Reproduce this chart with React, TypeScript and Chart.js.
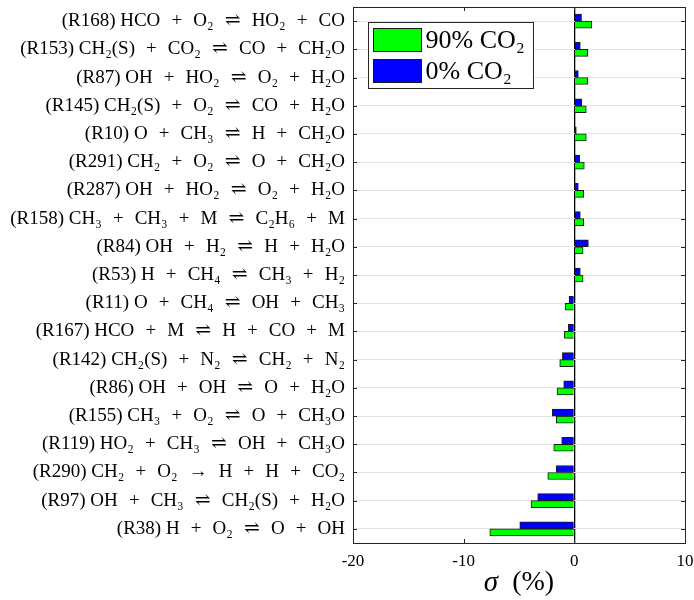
import React, { useEffect, useRef } from "react";
import { Chart, registerables } from "chart.js";

Chart.register(...registerables);

const reactions: string[] = [
  "(R168) HCO + O₂ ⇌ HO₂ + CO",
  "(R153) CH₂(S) + CO₂ ⇌ CO + CH₂O",
  "(R87) OH + HO₂ ⇌ O₂ + H₂O",
  "(R145) CH₂(S) + O₂ ⇌ CO + H₂O",
  "(R10) O + CH₃ ⇌ H + CH₂O",
  "(R291) CH₂ + O₂ ⇌ O + CH₂O",
  "(R287) OH + HO₂ ⇌ O₂ + H₂O",
  "(R158) CH₃ + CH₃ + M ⇌ C₂H₆ + M",
  "(R84) OH + H₂ ⇌ H + H₂O",
  "(R53) H + CH₄ ⇌ CH₃ + H₂",
  "(R11) O + CH₄ ⇌ OH + CH₃",
  "(R167) HCO + M ⇌ H + CO + M",
  "(R142) CH₂(S) + N₂ ⇌ CH₂ + N₂",
  "(R86) OH + OH ⇌ O + H₂O",
  "(R155) CH₃ + O₂ ⇌ O + CH₃O",
  "(R119) HO₂ + CH₃ ⇌ OH + CH₃O",
  "(R290) CH₂ + O₂ → H + H + CO₂",
  "(R97) OH + CH₃ ⇌ CH₂(S) + H₂O",
  "(R38) H + O₂ ⇌ O + OH",
];

const co2_0: number[] = [
  0.65, 0.54, 0.36, 0.67, 0.18, 0.48, 0.36, 0.54, 1.27, 0.54,
  -0.48, -0.54, -1.08, -0.96, -1.99, -1.14, -1.63, -3.31, -4.93,
];

const co2_90: number[] = [
  1.57, 1.21, 1.21, 1.08, 1.08, 0.9, 0.85, 0.85, 0.79, 0.79,
  -0.84, -0.9, -1.32, -1.56, -1.63, -1.86, -2.4, -3.91, -7.64,
];

const seriesLabels: string[] = ["0% CO₂", "90% CO₂"];
const xMin = -20;
const xMax = 10;
const xStep = 10;

const FONT = "'Liberation Serif', 'DejaVu Serif', serif";
const AXIS = "#262626";
const GAP = "  \u200A";

function spaced(label: string): string {
  const i = label.indexOf(" ");
  const id = label.slice(0, i);
  const rest = label
    .slice(i + 1)
    .split(" ")
    .join(GAP);
  return id + " " + rest;
}

const framePlugin = {
  id: "frame",
  afterDatasetsDraw(chart: any) {
    const { ctx, chartArea: ca, scales } = chart;
    ctx.save();
    ctx.strokeStyle = AXIS;
    ctx.lineWidth = 1;
    const y = scales.y;
    const x = scales.x;
    ctx.beginPath();
    for (let i = 0; i < y.ticks.length; i++) {
      const p = Math.round(y.getPixelForTick(i)) + 0.5;
      ctx.moveTo(ca.left, p);
      ctx.lineTo(ca.left + 4, p);
      ctx.moveTo(ca.right, p);
      ctx.lineTo(ca.right - 4, p);
    }
    for (let i = 0; i < x.ticks.length; i++) {
      const p = Math.round(x.getPixelForTick(i)) + 0.5;
      ctx.moveTo(p, ca.bottom);
      ctx.lineTo(p, ca.bottom - 4);
      ctx.moveTo(p, ca.top);
      ctx.lineTo(p, ca.top + 4);
    }
    ctx.stroke();
    ctx.strokeRect(
      Math.round(ca.left) + 0.5,
      Math.round(ca.top) + 0.5,
      Math.round(ca.right - ca.left),
      Math.round(ca.bottom - ca.top)
    );
    ctx.restore();
  },
  afterDraw(chart: any) {
    const { ctx, chartArea: ca } = chart;
    ctx.save();
    // legend box
    const bx = Math.round(ca.left) + 15.5;
    const by = Math.round(ca.top) + 15.5;
    const bw = 165;
    const bh = 66;
    ctx.fillStyle = "#fff";
    ctx.fillRect(bx, by, bw, bh);
    ctx.strokeStyle = AXIS;
    ctx.lineWidth = 1;
    ctx.strokeRect(bx, by, bw, bh);
    const order = [1, 0];
    order.forEach((di, k) => {
      const ds = chart.data.datasets[di];
      const sy = by + 6 + k * 31;
      ctx.fillStyle = ds.backgroundColor;
      ctx.fillRect(bx + 5, sy, 48, 23);
      ctx.strokeStyle = "#1a1a1a";
      ctx.strokeRect(bx + 5, sy, 48, 23);
      ctx.fillStyle = "#000";
      ctx.font = `26px ${FONT}`;
      ctx.textBaseline = "middle";
      ctx.textAlign = "left";
      ctx.fillText(ds.label, bx + 57, sy + 13);
    });
    // x-axis title: italic sigma + (%)
    const cx = (ca.left + ca.right) / 2;
    const ty = 583;
    ctx.fillStyle = "#000";
    ctx.textBaseline = "middle";
    ctx.font = `italic 29px ${FONT}`;
    const s1 = "σ";
    const w1 = ctx.measureText(s1).width;
    ctx.font = `28px ${FONT}`;
    const s2 = "  (%)";
    const w2 = ctx.measureText(s2).width;
    const start = cx - (w1 + w2) / 2;
    ctx.textAlign = "left";
    ctx.font = `italic 29px ${FONT}`;
    ctx.fillText(s1, start, ty);
    ctx.font = `28px ${FONT}`;
    ctx.fillText(s2, start + w1, ty);
    ctx.restore();
  },
};

export default function App() {
  const ref = useRef<HTMLCanvasElement | null>(null);
  useEffect(() => {
    document.body.style.margin = "0";
    const canvas = ref.current;
    if (!canvas) return;
    const chart = new Chart(canvas, {
      type: "bar",
      data: {
        labels: reactions,
        datasets: [
          {
            label: seriesLabels[0],
            data: co2_0,
            backgroundColor: "#0000ff",
            borderColor: "#1a1a1a",
            borderWidth: 1,
            barThickness: 7,
          },
          {
            label: seriesLabels[1],
            data: co2_90,
            backgroundColor: "#00ff00",
            borderColor: "#1a1a1a",
            borderWidth: 1,
            barThickness: 7,
          },
        ],
      },
      options: {
        indexAxis: "y",
        responsive: false,
        animation: false,
        layout: { padding: { top: 7, right: 9, left: 0, bottom: 0 } },
        plugins: {
          legend: { display: false },
          tooltip: { enabled: false },
        },
        scales: {
          x: {
            min: xMin,
            max: xMax,
            ticks: {
              stepSize: xStep,
              font: { family: FONT, size: 17 },
              color: "#000",
              padding: 8,
            },
            grid: {
              color: (c: any) => (c.tick && c.tick.value === 0 ? "#000" : "rgba(0,0,0,0)"),
              lineWidth: 1.3,
              drawTicks: false,
            },
            border: { display: false },
            afterFit: (s: any) => {
              s.height = 57;
              s.paddingLeft = 0;
              s.paddingRight = 0;
            },
          },
          y: {
            ticks: {
              font: { family: FONT, size: 19 },
              color: "#000",
              padding: 8,
              autoSkip: false,
              callback: (_v: any, i: number) => spaced(reactions[i]),
            },
            grid: {
              color: "#e3e3e3",
              offset: false,
              drawTicks: false,
            },
            border: { display: false },
            afterFit: (s: any) => {
              s.width = 353;
              s.paddingTop = 0;
              s.paddingBottom = 0;
            },
          },
        },
      },
      plugins: [framePlugin],
    } as any);
    return () => chart.destroy();
  }, []);
  return (
    <div style={{ width: 694, height: 600 }}>
      <canvas ref={ref} width={694} height={600} style={{ display: "block" }} />
    </div>
  );
}
